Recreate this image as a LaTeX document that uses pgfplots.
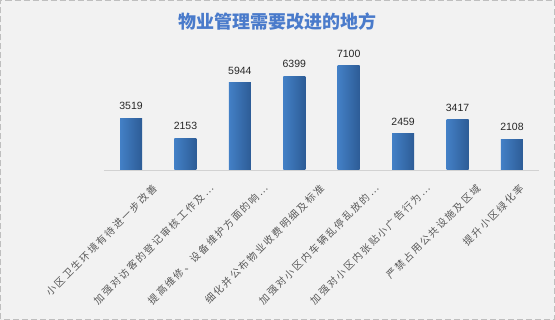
\documentclass[border=0pt]{standalone}
\usepackage{pgfplots}
\pgfplotsset{compat=1.18}
\usepackage{fontspec}
\setmainfont{Liberation Sans}
\newfontfamily\cjk{Noto Sans CJK SC}
\newfontfamily\cjkl[LetterSpace=18]{Noto Sans CJK SC}
\definecolor{bgc}{HTML}{F2F2F2}
\definecolor{barL}{HTML}{4380C6}
\definecolor{barM}{HTML}{5B98D6}
\definecolor{barR}{HTML}{2D5C96}
\definecolor{titc}{HTML}{4A7BCB}
\definecolor{txtc}{HTML}{595959}
\definecolor{valc}{HTML}{262626}
\newcommand\lab[2]{\raisebox{-#1pt}[8pt][2pt]{#2\hspace*{-#1pt}}}
\pgfplotsset{mybar/.style={ybar, bar width=22pt, bar shift=0pt, draw=none, left color=barL, middle color=barM, right color=barR}}
\begin{document}
\begin{tikzpicture}[x=1pt,y=1pt]
\fill[bgc] (0,0) rectangle (555,320);
\draw[gray!50, line width=0.8pt, dash pattern=on 6pt off 3pt] (0.5,0.5) rectangle (554.5,319.5);
\node[font=\cjk\bfseries\fontsize{18}{20}\selectfont, text=titc] at (277,298.5) {物业管理需要改进的地方};
\begin{axis}[
  at={(103.8pt,150pt)}, anchor=south west,
  scale only axis, width=435.4pt, height=117.2pt,
  xmin=-0.5, xmax=7.5, ymin=0, ymax=8000,
  axis x line*=bottom, axis y line=none,
  x axis line style={draw=gray!35, line width=0.8pt, -},
  xtick={0,...,7}, xtick style={draw=none},
  xticklabels={{\lab{11.3}{小区卫生环境有待进一步改善}},{\lab{12.7}{加强对访客的登记审核工作及…}},{\lab{12.7}{提高维修、设备维护方面的响…}},{\lab{14.1}{细化并公布物业收费明细及标准}},{\lab{14.1}{加强对小区内车辆乱停乱放的…}},{\lab{12}{加强对小区内张贴小广告行为…}},{\lab{9.2}{严禁占用公共设施及区域}},{\lab{1.4}{提升小区绿化率}}},
  xticklabel style={font=\cjkl\fontsize{10}{11}\selectfont, text=txtc, rotate=45, anchor=north east, inner sep=0pt, xshift=-6pt, yshift=-13pt},
  nodes near coords,
  nodes near coords style={font=\fontsize{10.5}{12}\selectfont, text=valc, /pgf/number format/fixed, /pgf/number format/1000 sep={}, /pgf/number format/assume math mode=true, yshift=5pt},
]
\addplot[mybar] coordinates {(0,3519)};
\addplot[mybar] coordinates {(1,2153)};
\addplot[mybar] coordinates {(2,5944)};
\addplot[mybar] coordinates {(3,6399)};
\addplot[mybar] coordinates {(4,7100)};
\addplot[mybar] coordinates {(5,2459)};
\addplot[mybar] coordinates {(6,3417)};
\addplot[mybar] coordinates {(7,2108)};
\end{axis}
\end{tikzpicture}
\end{document}
